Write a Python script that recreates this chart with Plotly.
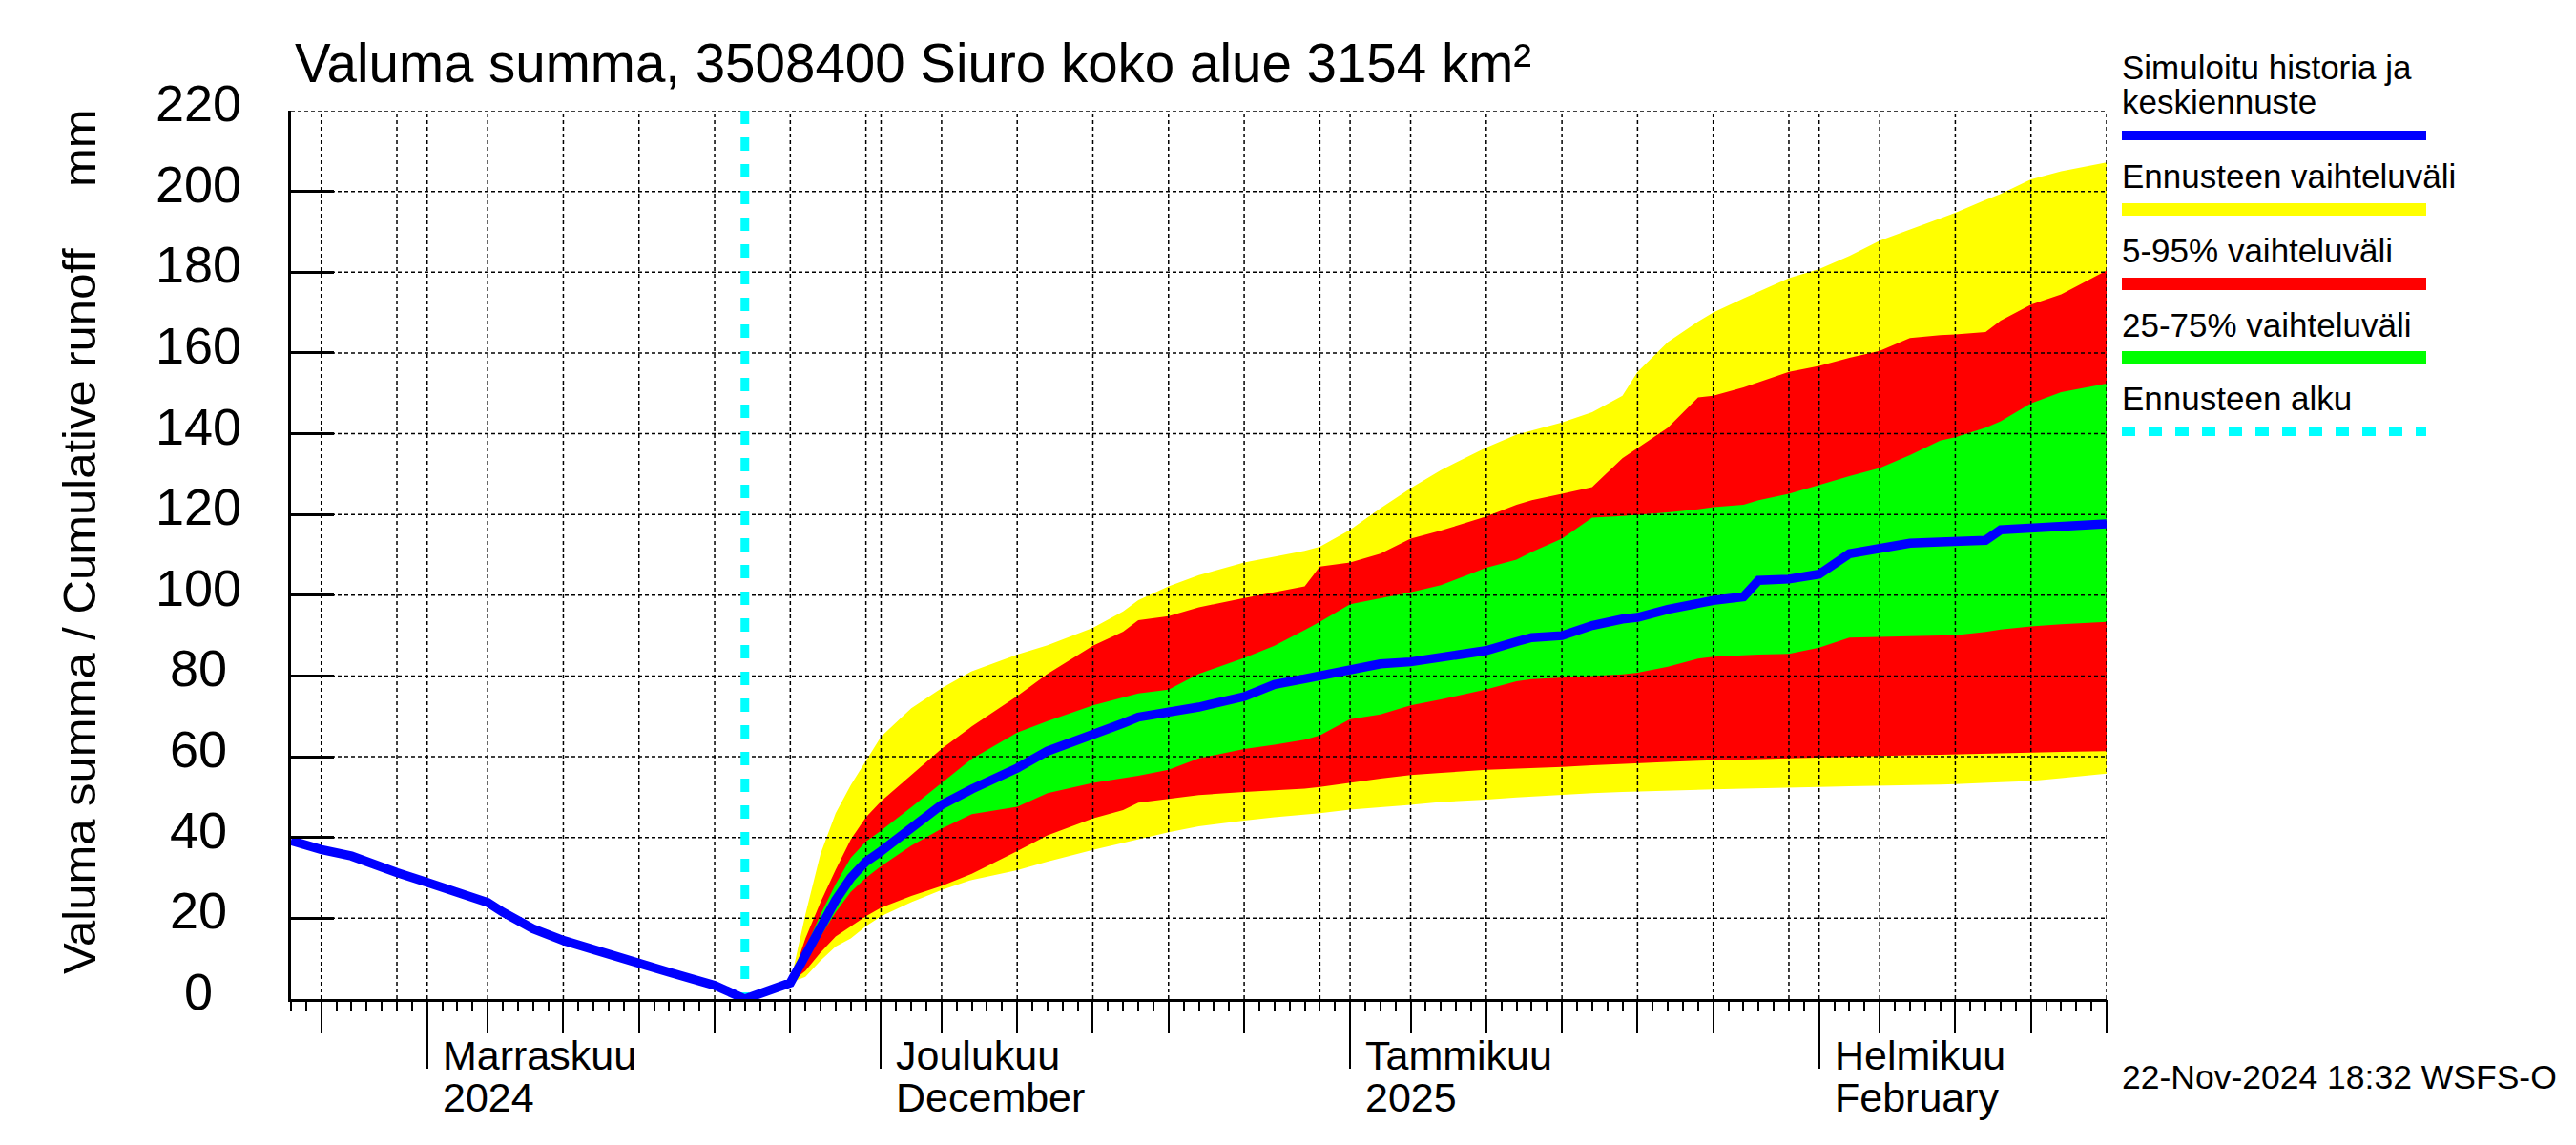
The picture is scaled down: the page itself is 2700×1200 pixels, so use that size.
import plotly.graph_objects as go
from datetime import date, timedelta

# ---------------- data ----------------
x_start = "2024-10-23"
x_end = "2025-02-20"
forecast_start = "2024-11-22"

hist_dates = ["2024-10-23", "2024-10-25", "2024-10-27", "2024-10-29", "2024-10-30",
              "2024-11-01", "2024-11-03", "2024-11-05", "2024-11-06", "2024-11-08",
              "2024-11-10", "2024-11-12", "2024-11-15", "2024-11-17", "2024-11-20",
              "2024-11-22"]
hist_values = [39.2, 37.0, 35.4, 32.4, 31.3, 28.9, 26.3, 23.9, 21.5, 17.4,
               14.5, 12.1, 8.8, 6.6, 3.4, 0.0]

fc_dates = ["2024-11-25", "2024-11-26", "2024-11-27", "2024-11-28", "2024-11-29", "2024-11-30",
            "2024-12-01", "2024-12-03", "2024-12-05", "2024-12-07", "2024-12-10", "2024-12-12",
            "2024-12-15", "2024-12-17", "2024-12-18", "2024-12-20", "2024-12-22", "2024-12-25",
            "2024-12-27", "2024-12-29", "2024-12-30",
            "2025-01-01", "2025-01-03", "2025-01-05", "2025-01-07", "2025-01-10", "2025-01-12",
            "2025-01-13", "2025-01-15", "2025-01-17", "2025-01-19", "2025-01-20", "2025-01-22",
            "2025-01-24", "2025-01-25", "2025-01-27", "2025-01-28", "2025-01-30",
            "2025-02-01", "2025-02-03", "2025-02-05", "2025-02-07", "2025-02-09", "2025-02-10",
            "2025-02-12", "2025-02-13", "2025-02-15", "2025-02-17", "2025-02-20"]

fc_median = [4, 11, 18, 24.5, 30, 34,
             36.6, 42.5, 48.1, 52, 57.2, 61.4, 65.3, 68.3, 69.8, 70.8, 72.3, 74.9, 77.9, 79.3, 80.1,
             81.6, 83, 83.5, 84.6, 86.3, 88.5, 89.5, 90, 92.5, 94.1, 94.5, 96.5, 98.3, 98.7, 99.6, 103.7, 104,
             105.2, 110.3, 111.8, 112.9, 113.2, 113.3, 113.6, 116.2, 116.7, 117.3, 117.7]
range_max = [4, 21, 36, 46, 53, 59,
             65, 72, 77, 81.2, 85.3, 87.6, 91.9, 96, 98.8, 102.2, 105, 108.1, 109.6, 111, 112,
             116.2, 121.5, 126.5, 131, 136.6, 139.8, 140.8, 142.8, 145.3, 149.4, 155.3, 162.7, 167.8, 170,
             173.5, 175.2, 178.5,
             180.8, 184, 187.8, 190.6, 193.3, 194.7, 197.9, 199.4, 203, 205, 207.2]
range_min = [4, 5.5, 9.5, 13, 15, 18,
             20.5, 24, 27, 29.5, 31.9, 34, 36.9, 38.6, 39.5, 41.3, 42.8, 44.2, 45, 45.7, 46,
             46.9, 47.5, 48.1, 48.8, 49.4, 49.9, 50.1, 50.6, 51, 51.3, 51.5, 51.7, 51.8, 51.9, 52.1, 52.2, 52.4,
             52.5, 52.7, 52.8, 53, 53.1, 53.2, 53.5, 53.7, 54, 54.7, 55.8]
p95 = [4, 15, 24, 32, 39.5, 45,
       49, 55.5, 62, 67.5, 75, 80.5, 87.5, 91, 93.8, 94.8, 97, 99.3, 100.8, 102.2, 107.1,
       108.1, 110.3, 114, 116, 119.5, 122.4, 123.5, 125.1, 126.8, 133.9, 136.5, 141.5, 149, 149.4,
       151.5, 152.8, 155.3,
       156.8, 158.8, 160.5, 163.7, 164.4, 164.6, 165.2, 168, 172, 174.5, 180.4]
p05 = [4, 7, 11.5, 15.5, 18, 20.5,
       22.6, 25.5, 28, 31, 36.6, 40.5, 44.7, 46.8, 48.6, 49.6, 50.5, 51.3, 51.7, 52.1, 52.5,
       53.5, 54.6, 55.5, 56, 56.8, 57.1, 57.2, 57.5, 57.9, 58.3, 58.4, 58.7, 59, 59.1, 59.4, 59.5, 59.7,
       59.9, 60.1, 60.2, 60.4, 60.5, 60.6, 60.8, 60.9, 61, 61.2, 61.4]
p75 = [4, 12.5, 21, 28.5, 35, 39,
       41.7, 47.5, 53.5, 59.5, 66, 68.8, 72.7, 74.8, 75.7, 76.6, 80.5, 84.5, 87.5, 91.4, 93.4,
       97.8, 99.3, 100.7, 102.5, 106.8, 108.8, 110.7, 114, 119.2, 119.6, 119.9, 120.5, 121.3, 121.8,
       122.4, 123.5, 125.1,
       127.3, 129.5, 131.5, 134.7, 138.3, 139.1, 141.5, 143.1, 147.5, 150.3, 152.4]
p25 = [4, 9.5, 15.5, 21.5, 26.5, 30,
       32.9, 38, 42.2, 45.8, 47.6, 51, 53.5, 54.7, 55.3, 56.8, 59.6, 61.9, 63, 64.2, 65.3,
       69.3, 70.5, 72.7, 74.2, 76.7, 78.7, 79.2, 79.6, 80, 80.4, 80.8, 82.3, 84.3, 84.8, 85.1, 85.3, 85.5,
       87, 89.5, 89.7, 89.9, 90, 90.1, 90.9, 91.5, 92.3, 92.8, 93.4]

y_ticks = [0, 20, 40, 60, 80, 100, 120, 140, 160, 180, 200, 220]
month_labels = [("2024-11-01", "Marraskuu", "2024"),
                ("2024-12-01", "Joulukuu", "December"),
                ("2025-01-01", "Tammikuu", "2025"),
                ("2025-02-01", "Helmikuu", "February")]

title_text = "Valuma summa, 3508400 Siuro koko alue 3154 km²"
ylabel_text = "Valuma summa / Cumulative runoff"
yunit_text = "mm"
legend_items = [("Simuloitu historia ja", "keskiennuste"),
                ("Ennusteen vaihteluväli",),
                ("5-95% vaihteluväli",),
                ("25-75% vaihteluväli",),
                ("Ennusteen alku",)]
timestamp_text = "22-Nov-2024 18:32 WSFS-O"

# ---------------- styles / layout geometry ----------------
FONT = "Liberation Sans, Arial, Helvetica, sans-serif"
PAGE_W, PAGE_H = 2700, 1200
BODY = 8                      # default page margin of the html body
W, H = PAGE_W - BODY, PAGE_H - BODY
PL, PR, PT, PB = 305, 2208, 116, 1047   # plot edges in page pixels

YELLOW, RED, GREEN, BLUE, CYAN = "#ffff00", "#ff0000", "#00ff00", "#0000ff", "#00ffff"


def px_x(px):
    return (px - PL) / (PR - PL)


def px_y(py):
    return (PB - py) / (PB - PT)


# derived tick/grid dates
d0 = date.fromisoformat(x_start)
d1 = date.fromisoformat(x_end)
all_days = []
d = d0
while d <= d1:
    all_days.append(d)
    d += timedelta(days=1)
month_starts = [dd.isoformat() for dd in all_days if dd.day == 1]
mid_ticks = [dd.isoformat() for dd in all_days if dd.day in (5, 10, 15, 20, 25)]
grid_days = [dd.isoformat() for dd in all_days if dd.day in (1, 5, 10, 15, 20, 25, 30)]

fig = go.Figure()


def band(hi, lo, color):
    return go.Scatter(x=fc_dates + fc_dates[::-1], y=hi + lo[::-1], fill="toself",
                      fillcolor=color, mode="lines", line=dict(width=0, color=color),
                      hoverinfo="skip", showlegend=False)


fig.add_trace(band(range_max, range_min, YELLOW))
fig.add_trace(band(p95, p05, RED))
fig.add_trace(band(p75, p25, GREEN))

# grid lines drawn above the fills
gx, gy = [], []
for g in grid_days:
    gx += [g, g, None]
    gy += [y_ticks[0], y_ticks[-1], None]
fig.add_trace(go.Scatter(x=gx, y=gy, mode="lines", line=dict(color="black", width=1.5, dash="4px,3px"),
                         hoverinfo="skip", showlegend=False))
hx, hy = [], []
for v in y_ticks[1:]:
    hx += [x_start, x_end, None]
    hy += [v, v, None]
fig.add_trace(go.Scatter(x=hx, y=hy, mode="lines", line=dict(color="black", width=1.5, dash="4px,3px"),
                         hoverinfo="skip", showlegend=False))

# forecast start line
fig.add_trace(go.Scatter(x=[forecast_start, forecast_start], y=[y_ticks[-1], y_ticks[0]], mode="lines",
                         line=dict(color=CYAN, width=9, dash="14px,14px"), hoverinfo="skip",
                         showlegend=False))

# median / history line
fig.add_trace(go.Scatter(x=hist_dates + fc_dates, y=hist_values + fc_median, mode="lines",
                         line=dict(color=BLUE, width=9.5), hoverinfo="skip", showlegend=False))

# dummy trace for secondary tick axis
fig.add_trace(go.Scatter(x=[x_start], y=[0], xaxis="x2", mode="markers", marker=dict(opacity=0),
                         hoverinfo="skip", showlegend=False))

annotations = []
# title
annotations.append(dict(text=title_text, xref="paper", yref="paper", x=0, y=1, xanchor="left",
                        yanchor="middle", xshift=2, yshift=PT - 66, showarrow=False,
                        font=dict(family=FONT, size=56.5, color="black")))
# y tick labels (centered)
for v in y_ticks:
    annotations.append(dict(text=str(v), xref="paper", yref="y", x=0, y=v, xanchor="center",
                            yanchor="middle", xshift=208 - PL, yshift=8, showarrow=False,
                            font=dict(family=FONT, size=54, color="black")))
# y axis titles
annotations.append(dict(text=ylabel_text, xref="paper", yref="paper", x=px_x(83), y=px_y(641),
                        textangle=-90, showarrow=False, xanchor="center", yanchor="middle",
                        font=dict(family=FONT, size=49, color="black")))
annotations.append(dict(text=yunit_text, xref="paper", yref="paper", x=px_x(83), y=px_y(155),
                        textangle=-90, showarrow=False, xanchor="center", yanchor="middle",
                        font=dict(family=FONT, size=49, color="black")))
# month labels
for md, l1, l2 in month_labels:
    annotations.append(dict(text=l1, xref="x", yref="paper", x=md, y=0, xanchor="left",
                            yanchor="middle", xshift=14, yshift=-(1106 - PB), showarrow=False,
                            font=dict(family=FONT, size=43, color="black")))
    annotations.append(dict(text=l2, xref="x", yref="paper", x=md, y=0, xanchor="left",
                            yanchor="middle", xshift=14, yshift=-(1150 - PB), showarrow=False,
                            font=dict(family=FONT, size=43, color="black")))
# legend texts
legend_text_y = [[70.5, 106.5], [184.5], [262.5], [340.5], [417.5]]
for item, ys in zip(legend_items, legend_text_y):
    for txt, yy in zip(item, ys):
        annotations.append(dict(text=txt, xref="paper", yref="paper", x=px_x(2222), y=px_y(yy),
                                xanchor="left", yanchor="middle", showarrow=False,
                                font=dict(family=FONT, size=35, color="black")))
annotations.append(dict(text=timestamp_text, xref="paper", yref="paper", x=px_x(2222), y=px_y(1128.5),
                        xanchor="left", yanchor="middle", showarrow=False,
                        font=dict(family=FONT, size=35.5, color="black")))

# legend swatches
shapes = []
swatches = [(142, 10, BLUE, "solid"), (219.5, 13, YELLOW, "solid"), (297.5, 13, RED, "solid"),
            (374.5, 13, GREEN, "solid"), (452.5, 9, CYAN, "14px,14px")]
for yy, wdt, col, dash in swatches:
    shapes.append(dict(type="line", xref="paper", yref="paper", x0=px_x(2224), x1=px_x(2543),
                       y0=px_y(yy), y1=px_y(yy), line=dict(color=col, width=wdt, dash=dash)))

fig.update_layout(
    width=W, height=H,
    margin=dict(l=PL - BODY, r=PAGE_W - PR, t=PT - BODY, b=PAGE_H - PB, pad=0),
    plot_bgcolor="white", paper_bgcolor="white",
    showlegend=False,
    annotations=annotations,
    shapes=shapes,
    xaxis=dict(type="date", range=[x_start, x_end], showline=True, linewidth=3, linecolor="black",
               tickmode="array", tickvals=month_starts, showticklabels=False,
               ticks="outside", ticklen=70, tickwidth=2, tickcolor="black",
               showgrid=False, zeroline=False, fixedrange=True,
               minor=dict(ticks="outside", ticklen=10, tickwidth=1.5, tickcolor="black",
                          dtick=86400000, tick0=x_start, showgrid=False)),
    xaxis2=dict(type="date", range=[x_start, x_end], overlaying="x", anchor="y", side="bottom",
                tickmode="array", tickvals=mid_ticks, showticklabels=False,
                ticks="outside", ticklen=35, tickwidth=1.5, tickcolor="black",
                showgrid=False, showline=False, zeroline=False, fixedrange=True),
    yaxis=dict(range=[0, 220], showline=True, linewidth=3, linecolor="black",
               tickmode="array", tickvals=y_ticks, showticklabels=False,
               ticks="inside", ticklen=45, tickwidth=3, tickcolor="black",
               showgrid=False, zeroline=False, fixedrange=True),
)

fig.write_html("out.html")
